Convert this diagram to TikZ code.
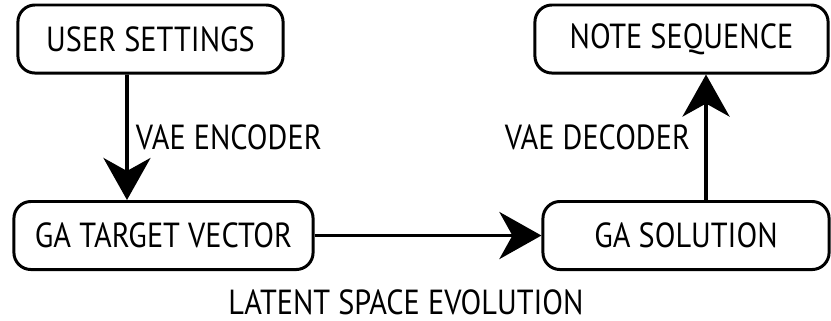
\documentclass[tikz,border=0pt]{standalone}
\usepackage{fontspec}
\setmainfont{PT Sans}[FakeStretch=0.87]
\usetikzlibrary{arrows.meta}
\begin{document}
\begin{tikzpicture}[x=0.01cm,y=-0.01cm,
  box/.style={draw,line width=0.85pt,rounded corners=0.17cm,minimum height=0.68cm,inner sep=0pt},
  flow/.style={line width=1.1pt,-{Stealth[length=0.42cm,width=0.47cm,inset=0.13cm]}},
  lbl/.style={font=\fontsize{9.9}{12}\selectfont}]
\useasboundingbox (0,0) rectangle (831,320);

% Boxes
\node[box,lbl,minimum width=2.65cm] (user) at (150.5,39) {USER SETTINGS};
\node[box,lbl,minimum width=2.93cm] (notes) at (681.5,39) {NOTE SEQUENCE};
\node[box,lbl,minimum width=2.99cm] (target) at (163.5,235.5) {GA TARGET VECTOR};
\node[box,lbl,minimum width=2.86cm] (solution) at (686,235.5) {GA SOLUTION};

% Encoder / decoder
\draw[flow] ([xshift=-0.235cm]user.south) -- ([xshift=-0.365cm]target.north)
  node[lbl,midway,right,inner sep=2pt] (enc) {VAE ENCODER};
\draw[flow] ([xshift=0.2cm]solution.north) -- ([xshift=0.245cm]notes.south)
  node[lbl,midway,left,inner sep=4pt] (dec) {VAE DECODER};

% Evolution in latent space
\draw[flow] (target.east) -- (solution.west);
\node[lbl] (evo) at (406,302) {LATENT SPACE EVOLUTION};
\end{tikzpicture}
\end{document}
